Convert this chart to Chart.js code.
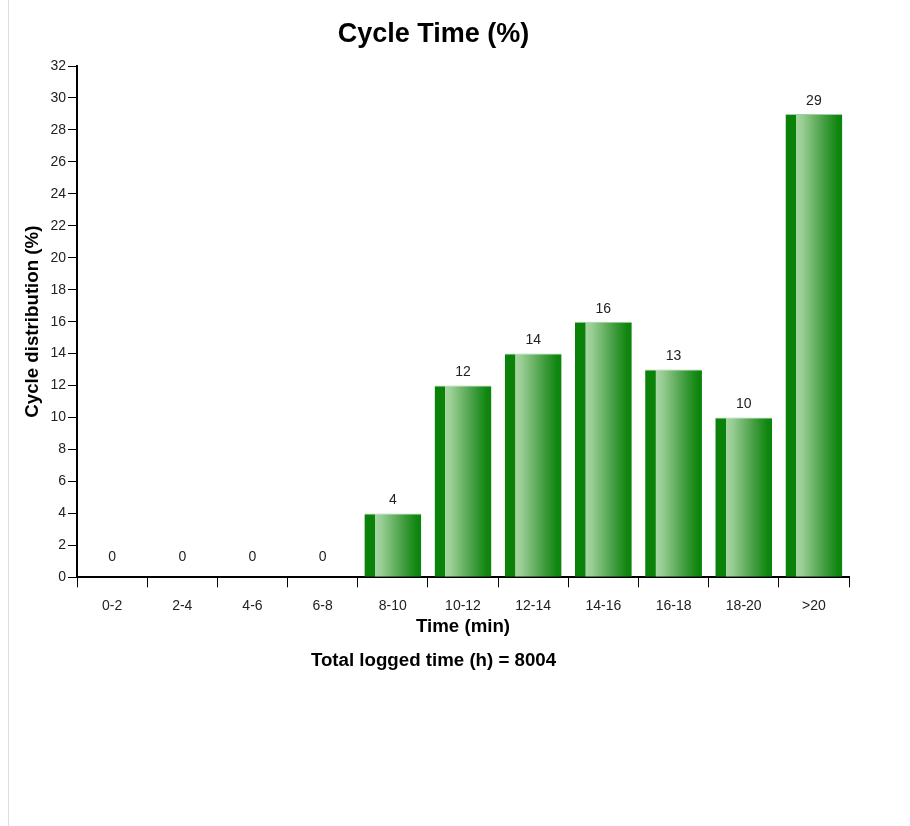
<!DOCTYPE html>
<html>
<head>
<meta charset="utf-8">
<script src="https://cdn.jsdelivr.net/npm/chart.js@4"></script>
<style>
  body { margin: 0; background: #fff; }
  #wrap { position: relative; width: 910px; height: 826px; }
  #edge { position: absolute; left: 8px; top: 0; width: 1px; height: 826px; background: #ddd; }
  #box { position: absolute; left: 0; top: 0; width: 868px; height: 690px; }
</style>
</head>
<body>
<div id="wrap">
  <div id="edge"></div>
  <div id="box"><canvas id="cycleChart"></canvas></div>
</div>
<script>
// categories and values
const timeBins = ['0-2', '2-4', '4-6', '6-8', '8-10', '10-12', '12-14', '14-16', '16-18', '18-20', '>20'];
const cyclePercent = [0, 0, 0, 0, 4, 12, 14, 16, 13, 10, 29];
const totalLoggedHours = 8004;

const BAR_PCT = 0.81;
const FONT = "'Liberation Sans', Arial, sans-serif";

// each bar gets its own horizontal gradient, dark strip on the left
const barGradient = (ctx) => {
  const chart = ctx.chart;
  const xs = chart.scales.x;
  if (!chart.chartArea || !xs) return '#0b830b';
  const cx = xs.getPixelForValue(ctx.dataIndex);
  const w = (xs.width / timeBins.length) * BAR_PCT;
  const g = chart.ctx.createLinearGradient(cx - w / 2, 0, cx + w / 2, 0);
  g.addColorStop(0, '#0a820a');
  g.addColorStop(0.18, '#0a820a');
  g.addColorStop(0.19, '#a6d5a2');
  g.addColorStop(0.3, '#98cd93');
  g.addColorStop(0.7, '#3f9b3d');
  g.addColorStop(0.92, '#0f860f');
  g.addColorStop(1, '#0c840c');
  return g;
};

// value labels over the bars
const valueLabels = {
  id: 'valueLabels',
  afterDatasetsDraw(chart) {
    const c = chart.ctx;
    const meta = chart.getDatasetMeta(0);
    c.save();
    c.font = '14px ' + FONT;
    c.fillStyle = '#222';
    c.textAlign = 'center';
    c.textBaseline = 'bottom';
    meta.data.forEach((bar, i) => {
      const v = cyclePercent[i];
      const off = v === 0 ? 13 : 6;
      c.fillText(String(v), bar.x, bar.y - off);
    });
    c.restore();
  }
};

new Chart(document.getElementById('cycleChart').getContext('2d'), {
  type: 'bar',
  data: {
    labels: timeBins,
    datasets: [{
      label: 'Cycle distribution (%)',
      data: cyclePercent,
      backgroundColor: barGradient,
      borderColor: '#9fd09b',
      borderWidth: { top: 1, left: 0, right: 0, bottom: 0 },
      borderSkipped: 'bottom',
      categoryPercentage: 1,
      barPercentage: BAR_PCT
    }]
  },
  options: {
    responsive: true,
    maintainAspectRatio: false,
    animation: false,
    layout: { padding: { left: 18, right: 19, top: 0, bottom: 0 } },
    plugins: {
      legend: { display: false },
      tooltip: { enabled: false },
      title: {
        display: true,
        text: 'Cycle Time (%)',
        color: '#000',
        font: { family: FONT, size: 27, weight: 'bold' },
        padding: { top: 18, bottom: 15.6 }
      },
      subtitle: {
        display: true,
        position: 'bottom',
        text: 'Total logged time (h) = ' + totalLoggedHours,
        color: '#000',
        font: { family: FONT, size: 18.7, weight: 'bold' },
        padding: { top: 4, bottom: 18 }
      }
    },
    scales: {
      x: {
        offset: true,
        border: { color: '#000', width: 2 },
        grid: { offset: true, drawOnChartArea: false, drawTicks: true, tickLength: 10, color: '#000', lineWidth: 1 },
        ticks: { color: '#222', font: { family: FONT, size: 14 }, padding: 10, maxRotation: 0 },
        title: {
          display: true,
          text: 'Time (min)',
          color: '#000',
          font: { family: FONT, size: 18.7, weight: 'bold' },
          // tighter than default so the axis title sits close under the labels
          padding: { top: -8, bottom: 7 }
        }
      },
      y: {
        min: 0,
        max: 32,
        border: { color: '#000', width: 2 },
        grid: { drawOnChartArea: false, drawTicks: true, tickLength: 9, color: '#000', lineWidth: 1 },
        ticks: { stepSize: 2, color: '#222', font: { family: FONT, size: 14 }, padding: 2 },
        title: {
          display: true,
          text: 'Cycle distribution (%)',
          color: '#000',
          font: { family: FONT, size: 18.7, weight: 'bold' },
          padding: { top: 4, bottom: 4 }
        }
      }
    }
  },
  plugins: [valueLabels]
});
</script>
</body>
</html>
